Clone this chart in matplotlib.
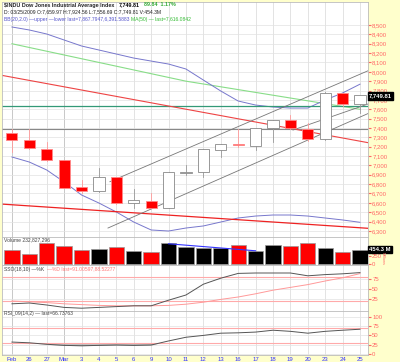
import matplotlib
matplotlib.use("Agg")
import matplotlib.pyplot as plt
from matplotlib.patches import Rectangle
import numpy as np

plt.rcParams["font.family"] = ["Liberation Sans", "DejaVu Sans"]

# ---------------- data ----------------
dates = ["Feb", "26", "27", "Mar", "3", "4", "5", "6", "9", "10", "11", "12", "13",
         "16", "17", "18", "19", "20", "23", "24", "25"]
prev_close = 7351
opens  = [7350, 7271, 7180, 7056, 6764, 6726, 6874, 6595, 6615, 6547, 6920, 6930, 7165,
          7224, 7210, 7396, 7487, 7390, 7278, 7770, 7660]
highs  = [7390, 7390, 7250, 7060, 6845, 6970, 6875, 6745, 6705, 6926, 7004, 7170, 7230,
          7386, 7400, 7480, 7540, 7450, 7780, 7775, 7740]
lows   = [7140, 7170, 7050, 6760, 6705, 6715, 6590, 6550, 6540, 6540, 6900, 6880, 7095,
          7200, 7165, 7250, 7390, 7260, 7270, 7640, 7563]
closes = [7271, 7182, 7063, 6763, 6726, 6876, 6594, 6627, 6547, 6926, 6930, 7170, 7224,
          7217, 7396, 7487, 7401, 7278, 7776, 7660, 7750]
volume = [445, 315, 682, 585, 455, 477, 532, 422, 370, 662, 542, 500, 500,
          607, 402, 607, 585, 682, 520, 390, 454]
bb_upper = [8479, 8447, 8404, 8340, 8276, 8233, 8190, 8147, 8115, 8083, 8030, 7912, 7795,
            7688, 7645, 7624, 7613, 7613, 7699, 7774, 7868]
bb_lower = [7090, 7036, 6951, 6823, 6684, 6598, 6502, 6395, 6310, 6299, 6331, 6353, 6395,
            6438, 6459, 6470, 6470, 6459, 6438, 6417, 6392]
ma50 = [8300, 8260, 8220, 8180, 8140, 8100, 8060, 8020, 7980, 7940, 7900, 7870, 7840,
        7810, 7780, 7750, 7720, 7690, 7660, 7630, 7600]
sso_k = [13, 15, 10, 4, 2, 4, 6, 8, 8, 22, 35, 62, 77, 89, 90, 90, 90, 83, 86, 88, 91]
sso_d = [20, 18, 16, 13, 11, 9, 8, 8, 8, 9, 12, 17, 24, 30, 38, 47, 54, 61, 70, 78, 88.5]
rsi = [32, 30, 26, 23, 22, 23, 24, 23, 24, 35, 45, 50, 56, 57, 59, 64, 61, 56, 61, 64, 66.7]

# trend lines (bar index, value)
red_hi = [(-0.69, 7966), (20.46, 7243)]
red_lo = [(-0.69, 6588), (20.46, 6328)]
chan_up = [(5.63, 6826), (20.46, 8011)]
chan_lo = [(5.52, 6331), (20.46, 7554)]
chan_mid = [(16.15, 7378), (20.46, 7656)]
hline_green = 7630
hline_gray = 7386
vol_trend = [(9.0, 650), (14.0, 422)]

price_ticks = list(range(6300, 8501, 100))

# ---------------- figure ----------------
W, H = 400, 362
fig = plt.figure(figsize=(W / 100, H / 100), dpi=100, facecolor="#FFFFCC")


def pax(x0, y0, x1, y1):
    ax = fig.add_axes([x0 / W, 1 - y1 / H, (x1 - x0) / W, (y1 - y0) / H])
    ax.set_facecolor("white")
    for s in ax.spines.values():
        s.set_color("#bbbbbb")
        s.set_linewidth(0.6)
    return ax


n = len(dates)
idx = np.arange(n)
XL = (-0.57, 20.46)
lab_col = "#FF6666"
fs = 4.3

ax = pax(2, 2, 368, 237)
axv = pax(2, 237, 368, 265)
axs = pax(2, 265, 368, 311)
axr = pax(2, 311, 368, 355)

for a in (ax, axv, axs, axr):
    a.set_xlim(*XL)
    a.set_xticks(idx)
    a.tick_params(axis="x", length=0, labelbottom=False)
    a.yaxis.tick_right()
    a.tick_params(axis="y", labelsize=fs, colors=lab_col, length=2, pad=1,
                  labelcolor=lab_col)
    a.grid(True, axis="x", color="#d8d8d8", linewidth=0.5)
    a.set_axisbelow(True)
    for i in (0, 3):
        a.axvline(i, color="#999999", linewidth=0.6, zorder=0)

# ---- price panel ----
ax.set_ylim(6235, 8746)
ax.set_yticks(price_ticks)
ax.set_yticklabels([f"{v:,}" for v in price_ticks])
ax.grid(True, axis="y", color="#e2e2e2", linewidth=0.5)

ax.plot(idx, ma50, color="#88dd88", linewidth=0.8, zorder=2)
ax.plot(idx, bb_upper, color="#7777cc", linewidth=0.7, zorder=2)
ax.plot(idx, bb_lower, color="#7777cc", linewidth=0.7, zorder=2)
ax.axhline(hline_green, color="#339977", linewidth=0.9, zorder=2)
ax.axhline(hline_gray, color="#888888", linewidth=0.8, zorder=2)
for ln, col, lw in ((red_hi, "#ee4444", 0.8), (red_lo, "#ee2222", 0.9),
                    (chan_up, "#777777", 0.6), (chan_lo, "#777777", 0.6),
                    (chan_mid, "#777777", 0.6)):
    ax.plot([ln[0][0], ln[1][0]], [ln[0][1], ln[1][1]], color=col, linewidth=lw, zorder=2)

bw = 0.64
pc = prev_close
for i in range(n):
    o, h, l, c = opens[i], highs[i], lows[i], closes[i]
    red = c < pc
    pc = c
    wick = "#ff9999" if red else "#999999"
    ax.plot([i, i], [l, h], color=wick, linewidth=0.6, zorder=3)
    bot, top = min(o, c), max(o, c)
    if c < o:
        face = "#ff0000" if red else "#000000"
        edge = "#ff8888" if red else "#555555"
    else:
        face = "white"
        edge = "#ff4444" if red else "#888888"
    ax.add_patch(Rectangle((i - bw / 2, bot), bw, max(top - bot, 6), facecolor=face,
                           edgecolor=edge, linewidth=0.6, zorder=4))

# ---- volume panel ----
axv.set_ylim(-40, 870)
axv.set_yticks([0, 250])
axv.set_yticklabels(["0", "250"])
pc = prev_close
vcols = []
for c in closes:
    vcols.append("#ff0000" if c < pc else "#000000")
    pc = c
axv.bar(idx, volume, width=0.88, color=vcols, edgecolor="#999999", linewidth=0.5, zorder=3)
axv.plot([vol_trend[0][0], vol_trend[1][0]], [vol_trend[0][1], vol_trend[1][1]],
         color="#3333ff", linewidth=0.8, zorder=4)

# ---- SSO panel ----
axs.set_ylim(-5, 110)
axs.set_yticks([25, 50, 75])
axs.grid(True, axis="y", color="#e2e2e2", linewidth=0.5)
axs.axhline(80, color="#ffaaaa", linewidth=0.8)
axs.axhline(20, color="#ffaaaa", linewidth=0.8)
axs.plot(idx, sso_d, color="#ff9999", linewidth=0.7, zorder=3)
axs.plot(idx, sso_k, color="#555555", linewidth=0.7, zorder=4)

# ---- RSI panel ----
axr.set_ylim(-3, 116)
axr.set_yticks([0, 25, 50, 75, 100])
axr.grid(True, axis="y", color="#e2e2e2", linewidth=0.5)
axr.axhline(70, color="#ffaaaa", linewidth=0.8)
axr.axhline(30, color="#ffaaaa", linewidth=0.8)
r = np.array(rsi, dtype=float)
axr.fill_between(idx, r, 30, where=r < 30, interpolate=True, color="#999999", alpha=0.6,
                 linewidth=0)
axr.plot(idx, rsi, color="#555555", linewidth=0.7, zorder=4)
axr.tick_params(axis="x", labelbottom=True, labelsize=fs, labelcolor="#3333ff", pad=1.5)
axr.set_xticklabels(dates)

# ---- texts ----
def ptxt(x, y, s, **kw):
    kw.setdefault("fontsize", 4.2)
    fig.text(x / W, 1 - y / H, s, va="center", ha="left", **kw)

ptxt(4, 5, "$INDU Dow Jones Industrial Average Index", fontweight="bold", color="#222222",
     fontsize=3.9)
ptxt(119, 5, "7,749.81", fontweight="bold", color="#000000", fontsize=3.9)
ptxt(144, 5, "89.84  1.17%", fontweight="bold", color="#33aa33", fontsize=3.9)
ptxt(4, 12, "D: 03/25/2009 O:7,659.97 H:7,924.56 L:7,556.69 C:7,749.81 V:454.3M",
     color="#222222", fontsize=3.6)
ptxt(4, 19, "BB(20,2.0) \u2014upper \u2014lower last=7,867.7947,6,391.5883",
     color="#5555cc", fontsize=3.6)
ptxt(131, 19, "MA(50) \u2014 last=7,616.0842", color="#33bb33", fontsize=3.6)

ptxt(4, 240, "Volume 232,827,296", color="#444444", fontsize=3.6)
ptxt(4, 269, "SSO(18,10) \u2014%K", color="#444444", fontsize=3.6)
ptxt(47, 269, "\u2014%D last=91.00597,88.52277", color="#ff7777", fontsize=3.6)
ptxt(4, 314, "RSI_09(14,2) \u2014 last=66.73763", color="#444444", fontsize=3.6)

fig.text(369 / W, 1 - 96 / H, "7,749.81", fontsize=4.2, color="white", fontweight="bold",
         va="center", ha="left",
         bbox=dict(boxstyle="square,pad=0.2", facecolor="black", edgecolor="black"))
fig.text(369 / W, 1 - 249.5 / H, "454.3 M", fontsize=4.2, color="white", fontweight="bold",
         va="center", ha="left",
         bbox=dict(boxstyle="square,pad=0.2", facecolor="black", edgecolor="black"))
fig.text(383 / W, 1 - 259 / H, "Millions", fontsize=2.8, color=lab_col, rotation=270,
         va="center", ha="center")

fig.savefig("out.png", dpi=100, facecolor=fig.get_facecolor())
